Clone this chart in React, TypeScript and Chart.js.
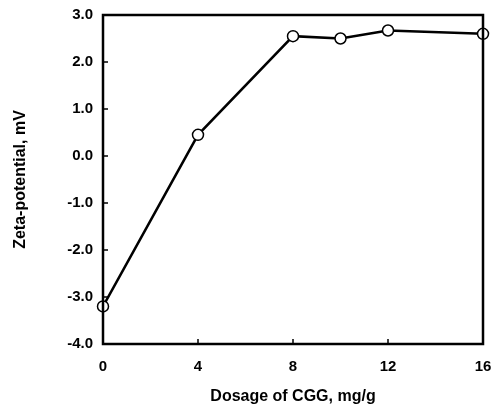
import React, { useEffect, useRef } from "react";
import { Chart, registerables } from "chart.js";

Chart.register(...registerables);

const dosage = [0, 4, 8, 10, 12, 16];
const zeta = [-3.2, 0.45, 2.55, 2.5, 2.67, 2.6];
const xTicks = [0, 4, 8, 12, 16];
const yTicks = [-4, -3, -2, -1, 0, 1, 2, 3];

const FONT = "'Liberation Sans', Arial, sans-serif";

const framePlugin = {
  id: "frame",
  afterDraw(chart: any) {
    const { ctx, chartArea } = chart;
    const xs = chart.scales.x;
    const ys = chart.scales.y;
    ctx.save();
    ctx.strokeStyle = "#000";
    ctx.lineWidth = 2.5;
    ctx.strokeRect(chartArea.left, chartArea.top, chartArea.right - chartArea.left, chartArea.bottom - chartArea.top);
    ctx.lineWidth = 1.5;
    ctx.beginPath();
    for (const v of xTicks) {
      const px = xs.getPixelForValue(v);
      ctx.moveTo(px, chartArea.bottom);
      ctx.lineTo(px, chartArea.bottom - 5);
    }
    for (const v of yTicks) {
      const py = ys.getPixelForValue(v);
      ctx.moveTo(chartArea.left, py);
      ctx.lineTo(chartArea.left + 5, py);
    }
    ctx.stroke();
    ctx.restore();
  },
};

const zeroPad = (s: any) => {
  s.paddingTop = 0;
  s.paddingBottom = 0;
  s.paddingLeft = 0;
  s.paddingRight = 0;
};

export default function App() {
  const ref = useRef<HTMLCanvasElement>(null);
  useEffect(() => {
    document.body.style.margin = "0";
    const chart = new Chart(ref.current!, {
      type: "scatter",
      data: {
        datasets: [
          {
            data: dosage.map((x, i) => ({ x, y: zeta[i] })),
            showLine: true,
            borderColor: "#000",
            borderWidth: 2.5,
            pointRadius: 5.5,
            pointBackgroundColor: "#fff",
            pointBorderColor: "#000",
            pointBorderWidth: 1.5,
            clip: false as any,
          },
        ],
      },
      options: {
        animation: false,
        responsive: false,
        maintainAspectRatio: false,
        layout: { padding: { top: 15, right: 15, left: 0, bottom: 0 } },
        plugins: { legend: { display: false }, tooltip: { enabled: false } },
        scales: {
          x: {
            type: "linear",
            min: 0,
            max: 16,
            afterBuildTicks: (s: any) => {
              s.ticks = xTicks.map((v) => ({ value: v }));
            },
            afterFit: (s: any) => {
              s.height = 63;
              zeroPad(s);
            },
            grid: { display: false, drawTicks: false },
            border: { display: false },
            ticks: {
              color: "#000",
              font: { family: FONT, size: 15, weight: "bold" },
              padding: 14,
              maxRotation: 0,
            },
            title: {
              display: true,
              text: "Dosage of CGG, mg/g",
              color: "#000",
              font: { family: FONT, size: 16, weight: "bold" },
              padding: { top: 0, bottom: 1 },
            },
          },
          y: {
            type: "linear",
            min: -4,
            max: 3,
            afterBuildTicks: (s: any) => {
              s.ticks = yTicks.map((v) => ({ value: v }));
            },
            afterFit: (s: any) => {
              s.width = 103;
              zeroPad(s);
            },
            grid: { display: false, drawTicks: false },
            border: { display: false },
            ticks: {
              color: "#000",
              font: { family: FONT, size: 15, weight: "bold" },
              padding: 10,
              callback: (v: any) => Number(v).toFixed(1),
            },
            title: {
              display: true,
              text: "Zeta-potential, mV",
              color: "#000",
              font: { family: FONT, size: 16, weight: "bold" },
              padding: { top: 11, bottom: 11 },
            },
          },
        },
      },
      plugins: [framePlugin],
    });
    return () => chart.destroy();
  }, []);
  return (
    <div style={{ position: "absolute", left: 0, top: 0, width: 498, height: 407, background: "#fff" }}>
      <canvas ref={ref} width={498} height={407} />
    </div>
  );
}
